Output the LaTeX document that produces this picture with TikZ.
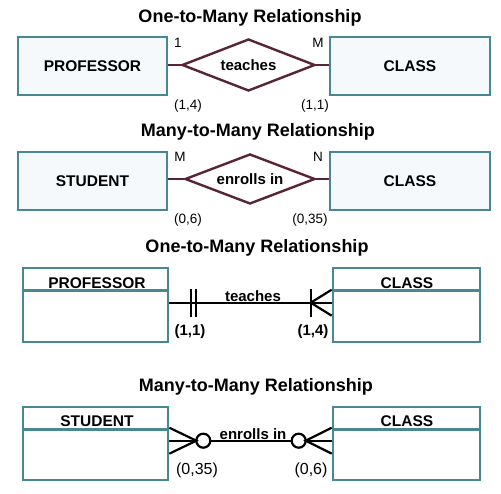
\documentclass[tikz,border=0pt]{standalone}
\usepackage{fontspec}
\setmainfont{Liberation Sans}
\usetikzlibrary{shapes.geometric,calc}
\definecolor{teal1}{RGB}{72,136,146}
\definecolor{maroon1}{RGB}{88,36,56}
\definecolor{boxfill}{RGB}{246,249,251}
\tikzset{
  ent/.style={draw=teal1,line width=2.6pt,fill=white,inner sep=0pt},
  chen/.style={ent,fill=boxfill},
  rel/.style={shape=diamond,draw=maroon1,line width=2.4pt,inner sep=0pt},
  ttl/.style={font=\fontsize{18}{21}\selectfont\bfseries},
  etxt/.style={font=\fontsize{15.5}{18}\selectfont\bfseries},
  rtxt/.style={font=\fontsize{15}{18}\selectfont\bfseries},
  small/.style={font=\fontsize{13.5}{15}\selectfont},
  mid/.style={font=\fontsize{15}{17}\selectfont\bfseries},
  midr/.style={font=\fontsize{16}{18}\selectfont},
  conn/.style={draw=maroon1,line width=2.4pt},
  crow/.style={draw=black,line width=2.2pt},
}
\begin{document}
\begin{tikzpicture}[x=1pt,y=-1pt]
\useasboundingbox[fill=white] (0,0) rectangle (501,494);
% ---- Chen notation, one-to-many
\node[ttl] (t1) at (250,18) {One-to-Many Relationship};
\node[chen,minimum width=149pt,minimum height=58pt] (prof1) at (92.5,66) {};
\node[etxt] at (prof1.center) {PROFESSOR};
\node[chen,minimum width=160pt,minimum height=58pt] (class1) at (410,66) {};
\node[etxt] at (class1.center) {CLASS};
\node[rel,minimum width=133pt,minimum height=52pt] (teach1) at (248.5,65) {};
\node[rtxt] at (teach1.center) {teaches};
\draw[conn] (prof1.east |- teach1.west) -- (teach1.west);
\draw[conn] (teach1.east) -- (class1.west |- teach1.east);
\node[small] (l1a) at (178,43) {1};
\node[small] (l1b) at (318,43) {M};
\node[small] (l1c) at (188,106) {(1,4)};
\node[small] (l1d) at (315,106) {(1,1)};
% ---- Chen notation, many-to-many
\node[ttl] (t2) at (258,132) {Many-to-Many Relationship};
\node[chen,minimum width=149pt,minimum height=58pt] (stud1) at (92.5,181) {};
\node[etxt] at (stud1.center) {STUDENT};
\node[chen,minimum width=160pt,minimum height=58pt] (class2) at (410,181) {};
\node[etxt] at (class2.center) {CLASS};
\node[rel,minimum width=130pt,minimum height=50pt] (enr1) at (250,179) {};
\node[rtxt] at (enr1.center) {enrolls in};
\draw[conn] (stud1.east |- enr1.west) -- (enr1.west);
\draw[conn] (enr1.east) -- (class2.west |- enr1.east);
\node[small] (l2a) at (180,157) {M};
\node[small] (l2b) at (318,157) {N};
\node[small] (l2c) at (188,220) {(0,6)};
\node[small] (l2d) at (310,220) {(0,35)};
% ---- Crow's foot, one-to-many
\node[ttl] (t3) at (257,248) {One-to-Many Relationship};
\node[ent,minimum width=145pt,minimum height=74pt] (prof2) at (95.5,305) {};
\draw[teal1,line width=2.6pt] ($(prof2.north west)+(0,24)$) -- ($(prof2.north east)+(0,24)$);
\node[etxt] at (97,283) {PROFESSOR};
\node[ent,minimum width=147pt,minimum height=74pt] (class3) at (406.5,305) {};
\draw[teal1,line width=2.6pt] ($(class3.north west)+(0,24)$) -- ($(class3.north east)+(0,24)$);
\node[etxt] at (407,283) {CLASS};
\coordinate (a1) at ($(prof2.north east)+(0,36)$);
\coordinate (a2) at ($(class3.north west)+(0,36)$);
\draw[crow] (a1) -- (a2);
\draw[crow] ($(a1)+(22,-14)$) -- ($(a1)+(22,14)$);
\draw[crow] ($(a1)+(27,-14)$) -- ($(a1)+(27,14)$);
\draw[crow] ($(a2)+(-21,-14)$) -- ($(a2)+(-21,14)$);
\draw[crow] ($(a2)+(0,-13)$) -- ($(a2)+(-21,0)$) -- ($(a2)+(0,13)$);
\node[mid] (teach2) at (253,296) {teaches};
\node[mid] (l3a) at (190,332) {(1,1)};
\node[mid] (l3b) at (313,332) {(1,4)};
% ---- Crow's foot, many-to-many
\node[ttl] (t4) at (256,387) {Many-to-Many Relationship};
\node[ent,minimum width=145pt,minimum height=73pt] (stud2) at (95.5,443.5) {};
\draw[teal1,line width=2.6pt] ($(stud2.north west)+(0,24)$) -- ($(stud2.north east)+(0,24)$);
\node[etxt] at (97,421) {STUDENT};
\node[ent,minimum width=147pt,minimum height=73pt] (class4) at (406.5,443.5) {};
\draw[teal1,line width=2.6pt] ($(class4.north west)+(0,24)$) -- ($(class4.north east)+(0,24)$);
\node[etxt] at (407,421) {CLASS};
\coordinate (b1) at ($(stud2.north east)+(0,35)$);
\coordinate (b2) at ($(class4.north west)+(0,35)$);
\node[crow,circle,minimum size=14pt,inner sep=0pt] (o1) at ($(b1)+(34,0)$) {};
\node[crow,circle,minimum size=14pt,inner sep=0pt] (o2) at ($(b2)+(-33,0)$) {};
\draw[crow] (b1) -- (o1.west);
\draw[crow] (o1.east) -- (o2.west);
\draw[crow] (o2.east) -- (b2);
\draw[crow] ($(b1)+(0,-13)$) -- ($(b1)+(27,0)$) -- ($(b1)+(0,13)$);
\draw[crow] ($(b2)+(0,-13)$) -- ($(b2)+(-26,0)$) -- ($(b2)+(0,13)$);
\node[mid] (enr2) at (253,434) {enrolls in};
\node[midr] (l4a) at (197,470) {(0,35)};
\node[midr] (l4b) at (311,470) {(0,6)};
\end{tikzpicture}
\end{document}
